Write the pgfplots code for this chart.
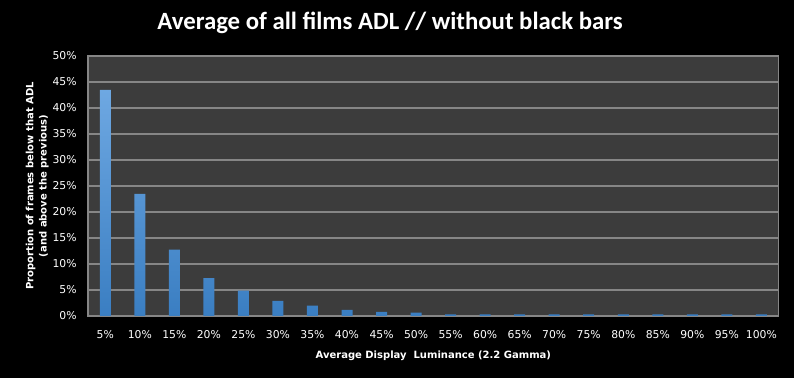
\documentclass[border=0pt]{standalone}
\usepackage{pgfplots}
\pgfplotsset{compat=1.18}
\usepackage{fontspec}
\setmainfont{DejaVu Sans}
\newfontfamily\titlefont{Carlito}
\definecolor{plotbg}{RGB}{60,60,60}
\definecolor{gridc}{RGB}{134,134,134}
\definecolor{bartop}{RGB}{110,168,226}
\definecolor{barbot}{RGB}{58,126,194}
\begin{document}
\begin{tikzpicture}[x=1pt,y=1pt]
\fill[black] (0,0) rectangle (595.5,283.5);
\begin{axis}[
  at={(66pt,46.5pt)}, anchor=south west,
  scale only axis, width=518pt, height=195pt,
  xmin=-0.5, xmax=19.5, ymin=0, ymax=50,
  axis background/.style={fill=plotbg},
  axis line style={gridc, line width=0.8pt},
  ytick={0,5,...,50},
  yticklabel={\pgfmathprintnumber{\tick}\%},
  xtick={0,...,19},
  xticklabels={5\%,10\%,15\%,20\%,25\%,30\%,35\%,40\%,45\%,50\%,55\%,60\%,65\%,70\%,75\%,80\%,85\%,90\%,95\%,100\%},
  /pgf/number format/assume math mode=true,
  major tick length=0pt,
  ymajorgrids, grid style={gridc, line width=0.8pt},
  tick label style={white, font=\fontsize{8.1}{9}\selectfont},
  yticklabel style={xshift=-5pt},
  xticklabel style={yshift=-7pt},
  xlabel={Average Display\ \ Luminance (2.2 Gamma)},
  xlabel style={white, font=\bfseries\fontsize{7.5}{9}\selectfont, yshift=-3pt},
  ylabel={Proportion of frames below that ADL\\(and above the previous)},
  ylabel style={white, font=\bfseries\fontsize{7.5}{10}\selectfont, align=center, yshift=-4pt},
]
\addplot[ybar, bar width=8.25pt, draw=none, top color=bartop, bottom color=barbot] coordinates {
 (0,43.5) (1,23.5) (2,12.75) (3,7.3) (4,4.9) (5,2.9) (6,1.98) (7,1.2) (8,0.8) (9,0.63)
 (10,0.3) (11,0.3) (12,0.3) (13,0.3) (14,0.3) (15,0.3) (16,0.3) (17,0.3) (18,0.3) (19,0.3)
};
\end{axis}
\node[white, font=\titlefont\bfseries\fontsize{18.6}{22}\selectfont] at (292.5,266) {Average of all films ADL // without black bars};
\end{tikzpicture}
\end{document}
